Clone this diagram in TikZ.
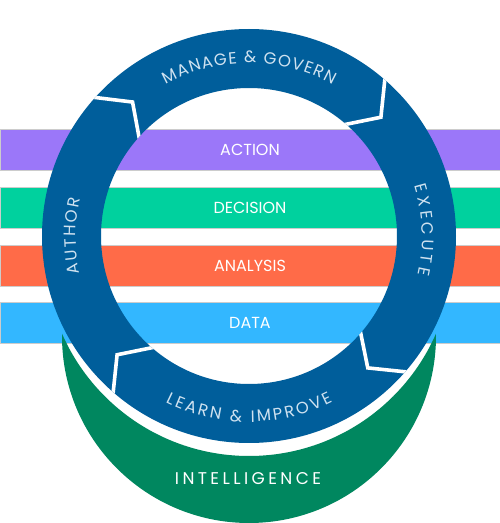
\documentclass[tikz,border=0pt]{standalone}
\usepackage{fontspec}
\setmainfont{Poppins}
\newfontfamily\ringfont{Poppins}
\newfontfamily\intelfont[LetterSpace=20]{Poppins}
\usetikzlibrary{decorations.text,calc}
\definecolor{ringblue}{HTML}{005E9B}
\definecolor{ringtext}{HTML}{CFE2F0}
\definecolor{actpurple}{HTML}{9B77F9}
\definecolor{decgreen}{HTML}{00D19E}
\definecolor{anaorange}{HTML}{FF6B48}
\definecolor{datablue}{HTML}{33B7FF}
\definecolor{intgreen}{HTML}{00875F}
\tikzset{
  band/.style={draw=gray!40, line width=0.7pt},
  bandlabel/.style={text=white, font=\fontsize{16}{19}\selectfont, inner sep=0pt},
  gapline/.style={white, line width=3.6pt, line join=miter},
  ringtextstyle/.style={decorate, decoration={text along path, text align=center, text color=ringtext, text={#1}}},
}
\newcommand\ringlabel{|\ringfont\fontsize{16.5}{19}\selectfont|}
\begin{document}
\begin{tikzpicture}[x=1pt,y=1pt]
\useasboundingbox (0,0) rectangle (500,523);
\fill[white] (0,0) rectangle (500,523);
% bands
\path[band, fill=actpurple] (0,353) rectangle (500,394);
\path[band, fill=decgreen] (0,295) rectangle (500,336);
\path[band, fill=anaorange] (0,237) rectangle (500,278);
\path[band, fill=datablue] (0,180) rectangle (500,221);
\node[bandlabel] (action) at (250,373.5) {ACTION};
\node[bandlabel] (decision) at (250,315.5) {DECISION};
\node[bandlabel] (analysis) at (250,257.5) {ANALYSIS};
\node[bandlabel] (data) at (250,200.5) {DATA};
% intelligence crescent
\begin{scope}
  \clip (249,187) circle[radius=187];
  \fill[intgreen, even odd rule] (-10,-10) rectangle (510,533) (249,271) circle[radius=204];
\end{scope}
\node[font=\intelfont\fontsize{17}{20}\selectfont, text=white, inner sep=0pt] (intel) at (248,44) {INTELLIGENCE};
% ring
\coordinate (C) at (249,287);
\fill[ringblue, even odd rule] (C) circle[radius=207] (C) circle[radius=148];
\begin{scope}[even odd rule]
  \clip (C) circle[radius=207] (C) circle[radius=148];
  \foreach \b [count=\i] in {138,49,-41,-131} {
    \coordinate (o\i) at ($(C)+(\b:207)$);
    \coordinate (t\i) at ($(C)+(\b-7:177.5)$);
    \coordinate (n\i) at ($(C)+(\b:148)$);
    \draw[gapline] ($(t\i)!1.3!(o\i)$) -- (t\i) -- ($(t\i)!1.3!(n\i)$);
  }
\end{scope}
% ring labels
\path[ringtextstyle={\ringlabel M{\kern1.2pt}A{\kern1.2pt}N{\kern1.2pt}A{\kern1.2pt}G{\kern1.2pt}E{\kern1.2pt} {\kern1.2pt}{\&}{\kern1.2pt} {\kern1.2pt}G{\kern1.2pt}O{\kern1.2pt}V{\kern1.2pt}E{\kern1.2pt}R{\kern1.2pt}N}]
  ($(C)+(150:173)$) arc[start angle=150, end angle=30, radius=173];
\path[ringtextstyle={\ringlabel E{\kern3.5pt}X{\kern3.5pt}E{\kern3.5pt}C{\kern3.5pt}U{\kern3.5pt}T{\kern3.5pt}E}]
  ($(C)+(62:173)$) arc[start angle=62, end angle=-58, radius=173];
\path[ringtextstyle={\ringlabel L{\kern2.4pt}E{\kern2.4pt}A{\kern2.4pt}R{\kern2.4pt}N{\kern2.4pt} {\kern2.4pt}{\&}{\kern2.4pt} {\kern2.4pt}I{\kern2.4pt}M{\kern2.4pt}P{\kern2.4pt}R{\kern2.4pt}O{\kern2.4pt}V{\kern2.4pt}E}]
  ($(C)+(-150:186)$) arc[start angle=-150, end angle=-30, radius=186];
\path[ringtextstyle={\ringlabel A{\kern1.8pt}U{\kern1.8pt}T{\kern1.8pt}H{\kern1.8pt}O{\kern1.8pt}R}]
  ($(C)+(240:173)$) arc[start angle=240, end angle=120, radius=173];
\end{tikzpicture}
\end{document}
